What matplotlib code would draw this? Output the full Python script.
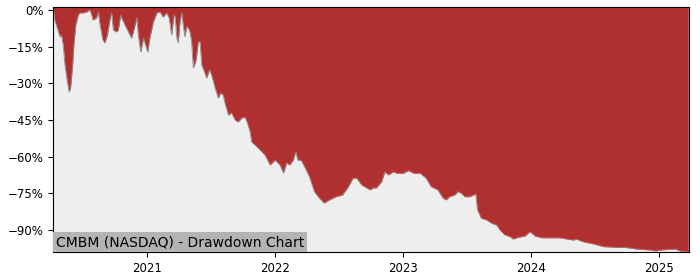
import pandas as pd
import matplotlib
matplotlib.use("Agg")
import matplotlib.pyplot as plt
import matplotlib.dates as mdates
from matplotlib.ticker import FuncFormatter

# 回撤数据（从图上读取，单位 %）
dates = [
    "2020-04-09", "2020-04-13", "2020-04-20", "2020-04-28", "2020-05-02", "2020-05-07",
    "2020-05-12", "2020-05-19", "2020-05-24", "2020-05-28", "2020-06-03", "2020-06-07",
    "2020-06-12", "2020-06-19", "2020-06-24", "2020-07-03", "2020-07-13", "2020-07-22",
    "2020-07-27", "2020-07-31", "2020-08-10", "2020-08-15", "2020-08-20", "2020-08-28",
    "2020-09-03", "2020-09-10", "2020-09-17", "2020-09-22", "2020-09-27", "2020-10-06",
    "2020-10-11", "2020-10-18", "2020-10-21", "2020-10-30", "2020-11-09", "2020-11-18",
    "2020-11-23", "2020-12-03", "2020-12-07", "2020-12-14", "2020-12-22", "2020-12-26",
    "2021-01-03", "2021-01-09", "2021-01-19", "2021-01-29", "2021-02-07", "2021-02-16",
    "2021-02-26", "2021-03-05", "2021-03-12", "2021-03-19", "2021-03-22", "2021-03-27",
    "2021-03-31", "2021-04-05", "2021-04-10", "2021-04-14", "2021-04-19", "2021-04-24",
    "2021-04-29", "2021-05-04", "2021-05-08", "2021-05-13", "2021-05-21", "2021-05-27",
    "2021-06-01", "2021-06-06", "2021-06-15", "2021-06-20", "2021-06-28", "2021-07-04",
    "2021-07-14", "2021-07-23", "2021-07-30", "2021-08-06", "2021-08-11", "2021-08-21",
    "2021-08-30", "2021-09-09", "2021-09-18", "2021-09-28", "2021-10-07", "2021-10-14",
    "2021-10-22", "2021-10-26", "2021-11-14", "2021-12-03", "2021-12-18", "2022-01-01",
    "2022-01-15", "2022-01-25", "2022-02-03", "2022-02-12", "2022-02-22", "2022-03-01",
    "2022-03-07", "2022-03-16", "2022-03-26", "2022-04-09", "2022-04-23", "2022-05-07",
    "2022-05-21", "2022-06-05", "2022-06-24", "2022-07-12", "2022-07-27", "2022-08-11",
    "2022-08-21", "2022-09-05", "2022-09-29", "2022-10-07", "2022-10-17", "2022-11-01",
    "2022-11-10", "2022-11-20", "2022-12-04", "2022-12-14", "2023-01-02", "2023-01-16",
    "2023-01-31", "2023-02-19", "2023-03-08", "2023-03-22", "2023-04-10", "2023-04-25",
    "2023-05-04", "2023-05-13", "2023-05-28", "2023-06-07", "2023-06-16", "2023-06-26",
    "2023-07-10", "2023-07-27", "2023-08-01", "2023-08-12", "2023-08-27", "2023-09-11",
    "2023-09-25", "2023-10-04", "2023-10-18", "2023-11-01", "2023-11-11", "2023-11-26",
    "2023-12-14", "2023-12-29", "2024-01-12", "2024-02-01", "2024-02-25", "2024-03-23",
    "2024-04-11", "2024-04-30", "2024-05-10", "2024-05-28", "2024-06-27", "2024-07-25",
    "2024-09-01", "2024-09-30", "2024-10-29", "2024-12-06", "2024-12-20", "2025-01-04",
    "2025-02-01", "2025-02-16", "2025-03-01", "2025-03-24",
]
drawdown = [
    0.0, -4.1, -7.4, -11.0, -10.2, -14.3,
    -22.5, -29.5, -33.6, -31.9, -22.5, -13.1,
    -6.1, -2.0, -1.2, -1.2, -0.8, 0.0,
    -2.0, -4.1, -3.3, -0.8, -6.1, -12.3,
    -13.5, -10.2, -4.1, -1.2, -8.2, -9.0,
    -8.2, -2.0, -3.3, -6.1, -9.0, -11.5,
    -9.0, -3.3, -10.2, -17.2, -11.5, -13.5,
    -17.2, -11.5, -4.9, -1.2, -0.8, -2.9,
    -1.2, -3.3, -10.2, -2.0, -2.7, -11.5,
    -13.5, -4.8, -1.2, -6.1, -10.9, -6.8,
    -7.4, -9.4, -13.0, -23.7, -20.5, -13.0,
    -13.0, -22.5, -25.8, -27.8, -24.5, -26.6,
    -31.9, -36.0, -34.0, -34.8, -38.0, -43.0,
    -42.1, -45.0, -45.8, -44.2, -43.8, -46.2,
    -49.9, -53.9, -56.5, -59.3, -63.4, -61.4,
    -63.4, -66.7, -62.6, -63.4, -61.4, -58.0,
    -61.4, -61.4, -64.1, -68.2, -74.3, -76.9,
    -79.0, -77.7, -76.4, -75.7, -72.8, -68.9,
    -68.7, -71.6, -73.6, -72.8, -72.8, -70.2,
    -66.2, -67.5, -66.2, -66.8, -66.8, -65.7,
    -66.8, -66.8, -68.9, -72.3, -73.6, -77.0,
    -77.7, -76.4, -75.7, -74.3, -75.0, -76.4,
    -76.4, -75.3, -81.8, -85.2, -85.9, -87.3,
    -88.0, -90.0, -92.0, -92.7, -93.7, -93.0,
    -92.5, -90.7, -92.5, -93.2, -93.2, -93.2,
    -93.7, -94.1, -93.8, -94.8, -95.7, -96.8,
    -97.1, -97.2, -97.8, -98.2, -98.6, -98.2,
    -97.9, -97.8, -98.6, -98.9,
]
y_ticks = [0, -15, -30, -45, -60, -75, -90]
title = "CMBM (NASDAQ) - Drawdown Chart"

RED = "#b03030"
BG = "#eeeeee"


def main():
    x = pd.to_datetime(dates)
    y_top, y_bottom = 1.2, -99.0

    fig = plt.figure(figsize=(7, 2.8), dpi=100)
    ax = fig.add_axes([0.0757, 0.1, 0.908, 0.875])
    ax.set_facecolor(BG)

    # 回撤区域：从顶部填到回撤线
    ax.fill_between(x, drawdown, y_top, color=RED, linewidth=0)
    ax.plot(x, drawdown, color="#8a8a8a", linewidth=0.6)

    ax.set_ylim(y_bottom, y_top)
    ax.set_xlim(pd.Timestamp("2020-04-08"), pd.Timestamp("2025-03-25"))
    ax.set_yticks(y_ticks)
    ax.yaxis.set_major_formatter(FuncFormatter(lambda v, _: f"{v:.0f}%".replace("-", "\u2212")))
    ax.xaxis.set_major_locator(mdates.YearLocator())
    ax.xaxis.set_major_formatter(mdates.DateFormatter("%Y"))
    ax.tick_params(labelsize=8.5)

    ax.text(0.005, 0.012, title, transform=ax.transAxes, fontsize=10,
            ha="left", va="bottom",
            bbox=dict(facecolor="#b4b4b4", edgecolor="none", pad=2))

    fig.savefig("out.png", dpi=100)
    plt.close(fig)


if __name__ == "__main__":
    main()
